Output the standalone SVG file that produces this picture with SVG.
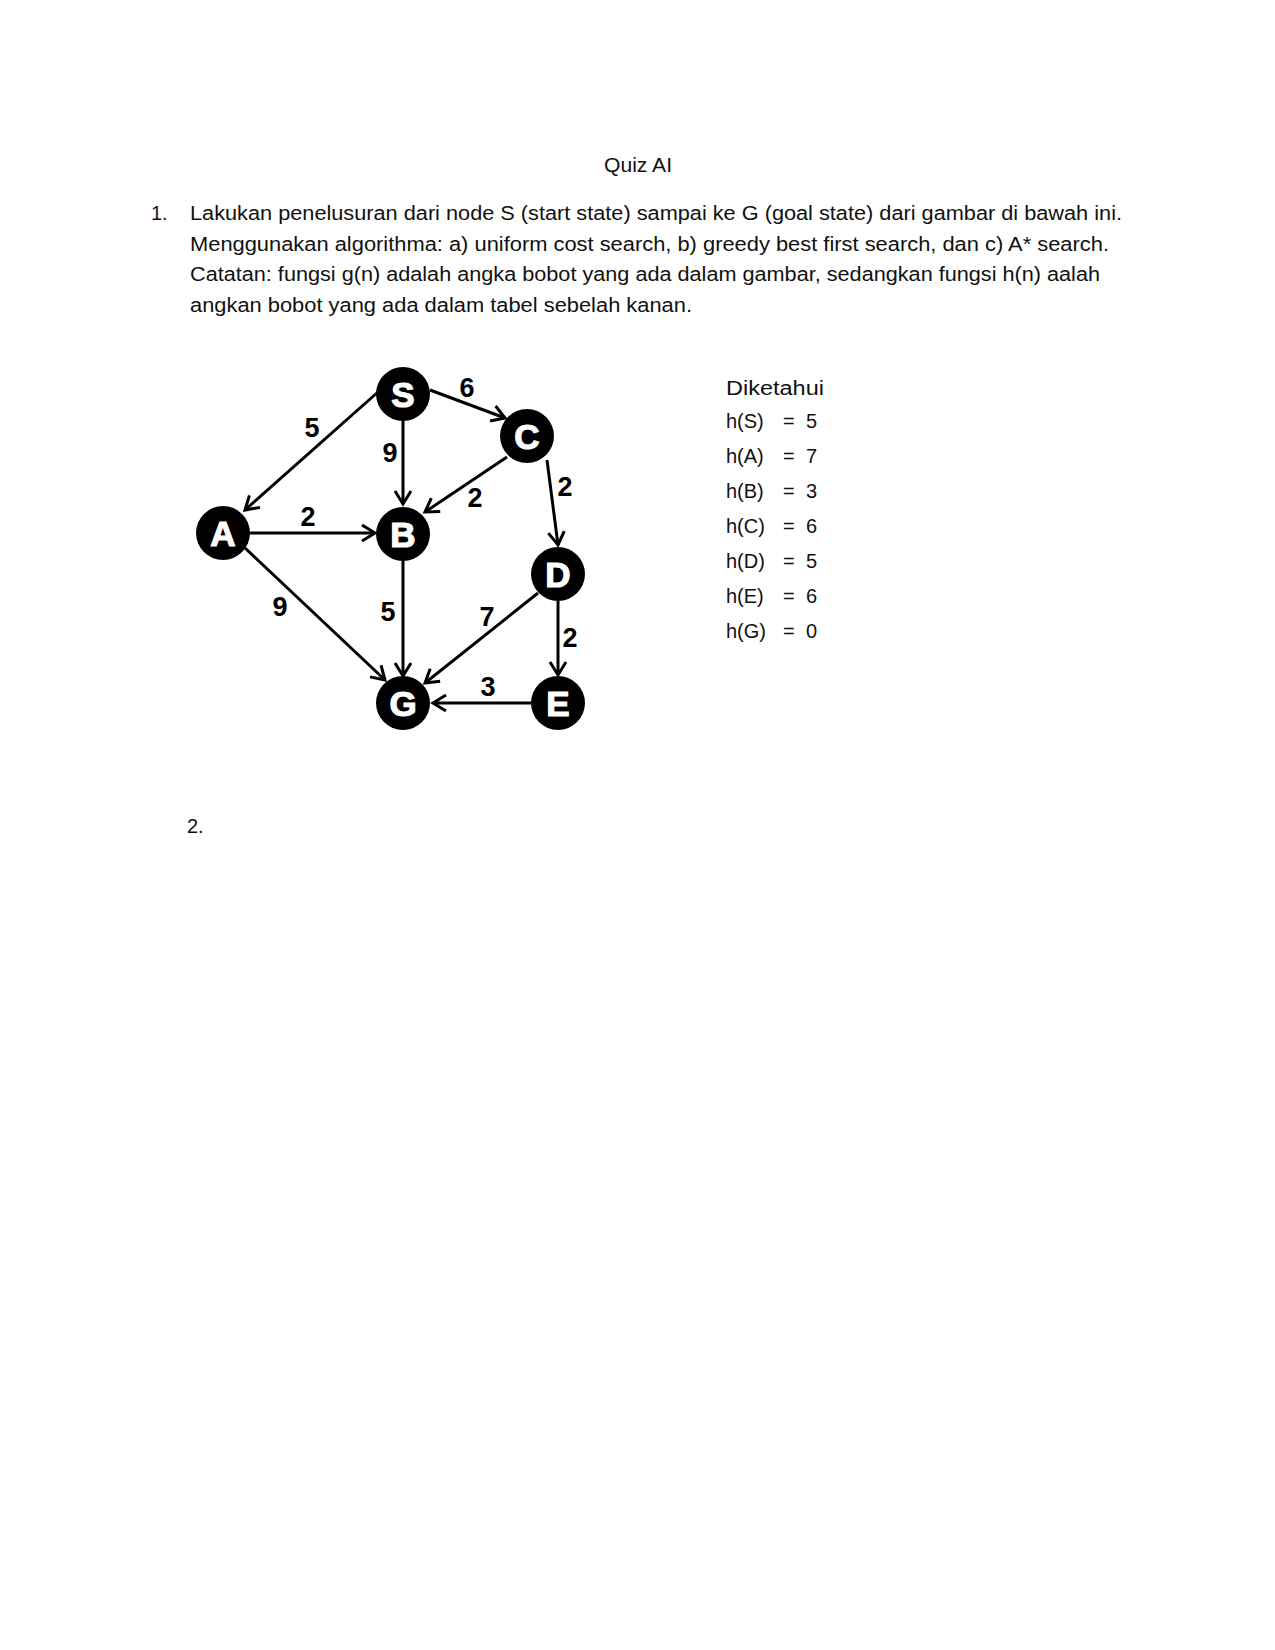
<svg xmlns="http://www.w3.org/2000/svg" width="1275" height="1650" viewBox="0 0 1275 1650">
<style>
.doc{font-family:"Liberation Sans",Arial,sans-serif;font-size:20px;fill:#111}
.edge{stroke:#000;stroke-width:3;fill:none;marker-end:url(#arr)}
.node circle{fill:#000}
.node text{font-family:"Liberation Sans",Arial,sans-serif;font-weight:bold;font-size:35px;fill:#fff;stroke:#fff;stroke-width:1.2;text-anchor:middle}
.lbl{font-family:"Liberation Sans",Arial,sans-serif;font-weight:bold;font-size:27px;fill:#000;text-anchor:middle}
</style>
<defs>
<marker id="arr" markerUnits="userSpaceOnUse" viewBox="-16 -10 20 20" refX="0" refY="0" markerWidth="20" markerHeight="20" orient="auto" overflow="visible">
<path d="M-13,-8 L0,0 L-13,8" fill="none" stroke="#000" stroke-width="3" stroke-linejoin="miter"/>
</marker>
</defs>
<rect width="1275" height="1650" fill="#fff"/>
<g id="text">
<text class="doc" x="604" y="172" textLength="68" lengthAdjust="spacingAndGlyphs">Quiz AI</text>
<text class="doc" x="151" y="220">1.</text>
<text class="doc" x="190" y="220" textLength="932" lengthAdjust="spacingAndGlyphs">Lakukan penelusuran dari node S (start state) sampai ke G (goal state) dari gambar di bawah ini.</text>
<text class="doc" x="190" y="250.5" textLength="919" lengthAdjust="spacingAndGlyphs">Menggunakan algorithma: a) uniform cost search, b) greedy best first search, dan c) A* search.</text>
<text class="doc" x="190" y="281" textLength="910" lengthAdjust="spacingAndGlyphs">Catatan: fungsi g(n) adalah angka bobot yang ada dalam gambar, sedangkan fungsi h(n) aalah</text>
<text class="doc" x="190" y="311.5" textLength="502" lengthAdjust="spacingAndGlyphs">angkan bobot yang ada dalam tabel sebelah kanan.</text>
<text class="doc" x="187" y="833">2.</text>
</g>
<g id="table">
<text class="doc" x="726" y="395" textLength="98" lengthAdjust="spacingAndGlyphs">Diketahui</text>
<text class="doc" x="726" y="428">h(S)</text><text class="doc" x="783" y="428">=</text><text class="doc" x="806" y="428">5</text>
<text class="doc" x="726" y="463">h(A)</text><text class="doc" x="783" y="463">=</text><text class="doc" x="806" y="463">7</text>
<text class="doc" x="726" y="498">h(B)</text><text class="doc" x="783" y="498">=</text><text class="doc" x="806" y="498">3</text>
<text class="doc" x="726" y="533">h(C)</text><text class="doc" x="783" y="533">=</text><text class="doc" x="806" y="533">6</text>
<text class="doc" x="726" y="568">h(D)</text><text class="doc" x="783" y="568">=</text><text class="doc" x="806" y="568">5</text>
<text class="doc" x="726" y="603">h(E)</text><text class="doc" x="783" y="603">=</text><text class="doc" x="806" y="603">6</text>
<text class="doc" x="726" y="638">h(G)</text><text class="doc" x="783" y="638">=</text><text class="doc" x="806" y="638">0</text>
</g>
<g id="connectors">
<line class="edge" x1="378" y1="392" x2="245" y2="510"/>
<line class="edge" x1="403" y1="421" x2="403" y2="504"/>
<line class="edge" x1="430" y1="390" x2="505" y2="418"/>
<line class="edge" x1="507" y1="457" x2="425" y2="512"/>
<line class="edge" x1="547" y1="460" x2="558" y2="545"/>
<line class="edge" x1="250" y1="533" x2="375" y2="533"/>
<line class="edge" x1="245" y1="548" x2="385" y2="680"/>
<line class="edge" x1="403" y1="561" x2="403" y2="676"/>
<line class="edge" x1="538" y1="593" x2="425" y2="683"/>
<line class="edge" x1="558" y1="601" x2="558" y2="675"/>
<line class="edge" x1="531" y1="703" x2="433" y2="703"/>
</g>
<g id="edge-labels">
<text class="lbl" x="467" y="397">6</text>
<text class="lbl" x="312" y="437">5</text>
<text class="lbl" x="390" y="462">9</text>
<text class="lbl" x="475" y="507">2</text>
<text class="lbl" x="565" y="496">2</text>
<text class="lbl" x="308" y="526">2</text>
<text class="lbl" x="280" y="616">9</text>
<text class="lbl" x="388" y="621">5</text>
<text class="lbl" x="487" y="626">7</text>
<text class="lbl" x="570" y="647">2</text>
<text class="lbl" x="488" y="696">3</text>
</g>
<g id="node-S" class="node"><circle cx="403" cy="394" r="27"/><text x="403" y="407">S</text></g>
<g id="node-C" class="node"><circle cx="527" cy="436" r="27"/><text x="527" y="449">C</text></g>
<g id="node-A" class="node"><circle cx="223" cy="533" r="27"/><text x="223" y="546">A</text></g>
<g id="node-B" class="node"><circle cx="403" cy="534" r="27"/><text x="403" y="547">B</text></g>
<g id="node-D" class="node"><circle cx="558" cy="574" r="27"/><text x="558" y="587">D</text></g>
<g id="node-G" class="node"><circle cx="403" cy="703" r="27"/><text x="403" y="716">G</text></g>
<g id="node-E" class="node"><circle cx="558" cy="703" r="27"/><text x="558" y="716">E</text></g>
</svg>
